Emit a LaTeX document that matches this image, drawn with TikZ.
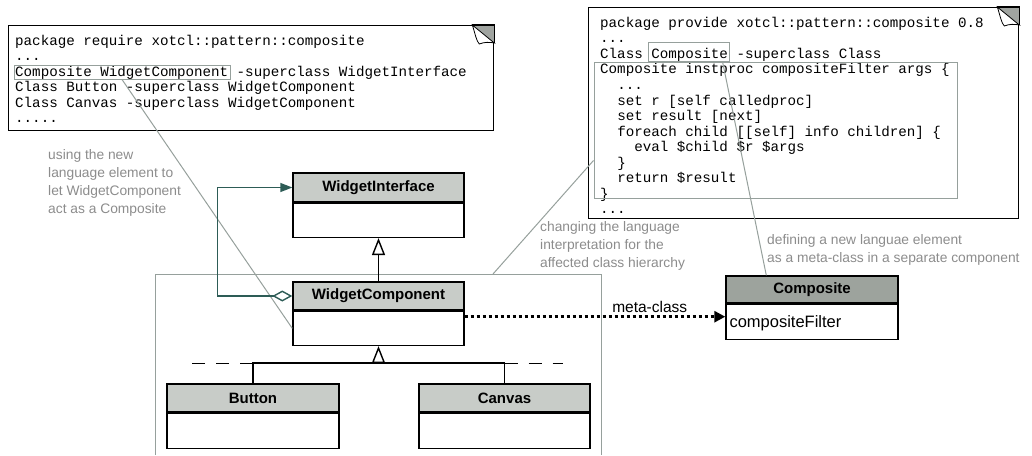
\documentclass[tikz,border=0pt]{standalone}
\usepackage{fontspec}
\setmainfont{Liberation Sans}
\newfontfamily\codefont{Liberation Mono}
\usetikzlibrary{arrows.meta,calc}

\definecolor{hdr}{RGB}{200,204,200}
\definecolor{hdrdark}{RGB}{157,163,157}
\definecolor{assoc}{RGB}{45,92,86}
\definecolor{remark}{RGB}{140,140,140}
\definecolor{remarkline}{RGB}{150,160,156}
\definecolor{foldgray}{RGB}{160,164,160}

% curled page corner at the top right of a note node
\newcommand\pagefold[1]{%
  \fill[foldgray] ($(#1.north east)+(-22,0)$) -- (#1.north east) -- ($(#1.north east)+(0,18)$) -- cycle;
  \draw[line width=0.8pt, fill=white]
    ($(#1.north east)+(-22,0)$)
      .. controls ($(#1.north east)+(-19,9)$) and ($(#1.north east)+(-18,16)$) .. ($(#1.north east)+(-15,19)$)
      .. controls ($(#1.north east)+(-10,17)$) and ($(#1.north east)+(-5,17)$) .. ($(#1.north east)+(0,18)$)
      -- cycle;
  \draw[line width=1.3pt] ($(#1.north east)+(-22,0)$) -- (#1.north east) -- ($(#1.north east)+(0,18)$);
}

\begin{document}
\begin{tikzpicture}[x=1pt,y=-1pt,
  hd/.style={draw, line width=1.4pt, fill=hdr, minimum width=171pt, minimum height=28pt,
    inner sep=0, font=\bfseries\fontsize{15}{18}\selectfont},
  bd/.style={draw, line width=1.4pt, fill=white, minimum width=171pt, minimum height=34pt,
    inner sep=0, anchor=north},
  note/.style={draw, line width=1.3pt, fill=white, inner sep=0, anchor=north west},
  code/.style={font=\codefont\fontsize{14.2}{15.5}\selectfont, anchor=base west, inner sep=0},
  hl/.style={draw=remarkline, line width=1pt, inner sep=0},
  remarkpath/.style={draw=remarkline, line width=1pt},
  remarktxt/.style={text=remark, font=\fontsize{13.8}{18}\selectfont, align=left, inner sep=0, anchor=west},
  gen/.style={line width=1.4pt, -{Triangle[open,length=17pt,width=13pt]}},
  dashline/.style={line width=1.2pt, dash pattern=on 13pt off 11pt},
]
\useasboundingbox (0,0) rectangle (1032,455);

% ---------- code notes ----------
\node[note, minimum width=485pt, minimum height=105pt] (nA) at (8,25) {};
\pagefold{nA}
\node[code] (a1) at (15,45) {package require xotcl::pattern::composite};
\node[code] (a2) at (15,60.5) {...};
\node[code] (a3) at (15,76) {Composite WidgetComponent -superclass WidgetInterface};
\node[code] (a4) at (15,91.5) {Class Button -superclass WidgetComponent};
\node[code] (a5) at (15,107) {Class Canvas -superclass WidgetComponent};
\node[code] (a6) at (15,122.5) {.....};
\node[hl, minimum width=216pt, minimum height=14pt] (hlA) at (122,72) {};

\node[note, minimum width=430pt, minimum height=211pt] (nB) at (588,7) {};
\pagefold{nB}
\node[code] (b1) at (600,27.3) {package provide xotcl::pattern::composite 0.8};
\node[code] (b2) at (600,42.85) {...};
\node[code] (b3) at (600,58.4) {Class Composite -superclass Class};
\node[code] (b4) at (600,73.95) {Composite instproc compositeFilter args \{};
\node[code] (b5) at (600,89.5) {~~...};
\node[code] (b6) at (600,105.05) {~~set r [self calledproc]};
\node[code] (b7) at (600,120.6) {~~set result [next]};
\node[code] (b8) at (600,136.15) {~~foreach child [[self] info children] \{};
\node[code] (b9) at (600,151.7) {~~~~eval \$child \$r \$args};
\node[code] (b10) at (600,167.25) {~~\}};
\node[code] (b11) at (600,182.8) {~~return \$result};
\node[code] (b12) at (600,198.35) {\}};
\node[code] (b13) at (600,213.9) {...};
\node[hl, minimum width=81pt, minimum height=19pt] (hlB) at (688.5,51.5) {};
\node[hl, minimum width=363pt, minimum height=136pt] (hlC) at (775.5,130) {};

% ---------- remarks ----------
\node[remarktxt] (t1) at (48,182.5) {using the new\\language element to\\let WidgetComponent\\act as a Composite};
\node[remarktxt] (t2) at (540,246) {changing the language\\interpretation for the\\affected class hierarchy};
\node[remarktxt, font=\fontsize{13.8}{17.3}\selectfont] (t3) at (767,250) {defining a new languae element\\as a meta-class in a separate component};

% frame around the affected class hierarchy
\coordinate (frBL) at (155,455);
\coordinate (frTL) at (155,274);
\coordinate (frTR) at (601,274);
\coordinate (frBR) at (601,455);
\coordinate (frA) at (493,274);
\draw[remarkpath] (frBL) -- (frTL) -- (frTR) -- (frBR);
\draw[remarkpath] (frA) -- ($(hlC.south west)+(0,-38)$);

% ---------- classes ----------
\node[hd] (wiH) at (378.5,187.5) [minimum height=29pt] {WidgetInterface};
\node[bd] (wiB) at (wiH.south) {};
\node[hd] (wcH) at (378.5,296) {WidgetComponent};
\node[bd] (wcB) at (wcH.south) {};
\node[hd, minimum width=172pt] (btH) at (253,398) {Button};
\node[bd, minimum width=172pt, minimum height=35pt] (btB) at (btH.south) {};
\node[hd] (cvH) at (504.5,398) {Canvas};
\node[bd, minimum height=35pt] (cvB) at (cvH.south) {};
\node[hd, fill=hdrdark, minimum width=172pt, minimum height=27pt] (cpH) at (812,289.5) {Composite};
\node[bd, minimum width=172pt, minimum height=35pt] (cpB) at (cpH.south) {};
\node[anchor=west, inner sep=0, font=\fontsize{16.5}{19}\selectfont] (cpT) at ($(cpB.west)+(4,1.5)$) {compositeFilter};

% remark lines pointing into the code
\draw[remarkpath] (hlA.south) -- (wcB.west);
\draw[remarkpath] ($(hlB.south east)+(-7,0)$) -- ($(cpH.north west)+(41,0)$);

% generalisation
\draw[gen] (wcH.north) -- (wiB.south);
\coordinate (jn) at ($(wcB.south)+(0,17)$);
\draw[line width=1.4pt] (btH.north) |- (jn) -| (cvH.north);
\draw[gen] (jn) -- (wcB.south);
\draw[dashline] (btH.north |- jn) -- ++(-63,0);
\draw[dashline] (cvH.north |- jn) -- ++(58,0);

% aggregation to the interface
\draw[assoc, line width=1.4pt, {Diamond[open,length=20pt,width=11pt]}-{Triangle[length=12pt,width=9pt]}]
  (wcH.west) -- ++(-75,0) |- (wiH.west);

% meta-class relation
\draw[line width=3pt, dash pattern=on 3pt off 3pt, -{Triangle[length=11pt,width=11pt]}]
  ($(wcB.north east)+(0,6)$) -- ($(cpB.north west)+(0,13)$)
  node[pos=0.71, above=3pt, inner sep=0, font=\fontsize{15.5}{18}\selectfont] (mc) {meta-class};
\end{tikzpicture}
\end{document}
